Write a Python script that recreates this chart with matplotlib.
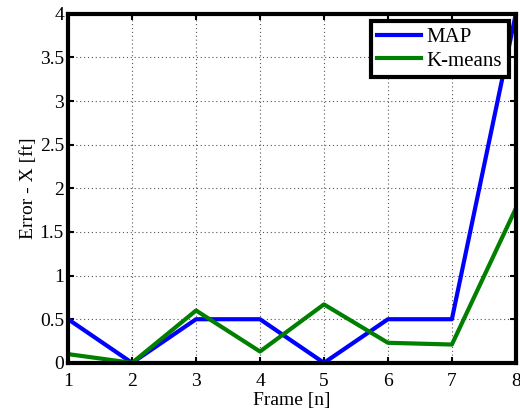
import matplotlib
matplotlib.use("Agg")
import matplotlib.pyplot as plt

frames = [1, 2, 3, 4, 5, 6, 7, 8]
map_err = [0.5, 0.0, 0.5, 0.5, 0.0, 0.5, 0.5, 4.0]
kmeans_err = [0.1, 0.0, 0.6, 0.13, 0.67, 0.23, 0.21, 1.77]

plt.rcParams["font.family"] = ["Liberation Serif", "DejaVu Serif"]
plt.rcParams["font.size"] = 14

fig = plt.figure(figsize=(5.2, 4.19), dpi=100)
ax = fig.add_axes([0.131, 0.134, 0.861, 0.833])

ax.plot(frames, map_err, color="#0000ff", lw=3, label="MAP")
ax.plot(frames, kmeans_err, color="#007f00", lw=3, label="K-means")

ax.set_xlim(1, 8)
ax.set_ylim(0, 4)
ax.set_xticks(frames)
ax.set_yticks([0, 0.5, 1, 1.5, 2, 2.5, 3, 3.5, 4])
ax.set_yticklabels(["0", "0.5", "1", "1.5", "2", "2.5", "3", "3.5", "4"])
ax.grid(True, color="#555555", linestyle=(0, (1, 2.5)), linewidth=0.8)
ax.tick_params(direction="in", length=4, width=1.5, top=True, right=True)
ax.tick_params(axis="x", pad=7)
ax.tick_params(axis="y", pad=3)
for s in ax.spines.values():
    s.set_linewidth(3)

ax.set_xlabel("Frame [n]", labelpad=2)
ax.set_ylabel("Error - X [ft]", labelpad=2)

leg = ax.legend(loc="upper right", fancybox=False, framealpha=1,
                edgecolor="black", borderaxespad=0.35, handlelength=2.1,
                borderpad=0.3, labelspacing=0.2, handletextpad=0.3,
                fontsize=15)
leg.get_frame().set_linewidth(3)

fig.savefig("out.png", dpi=100)
